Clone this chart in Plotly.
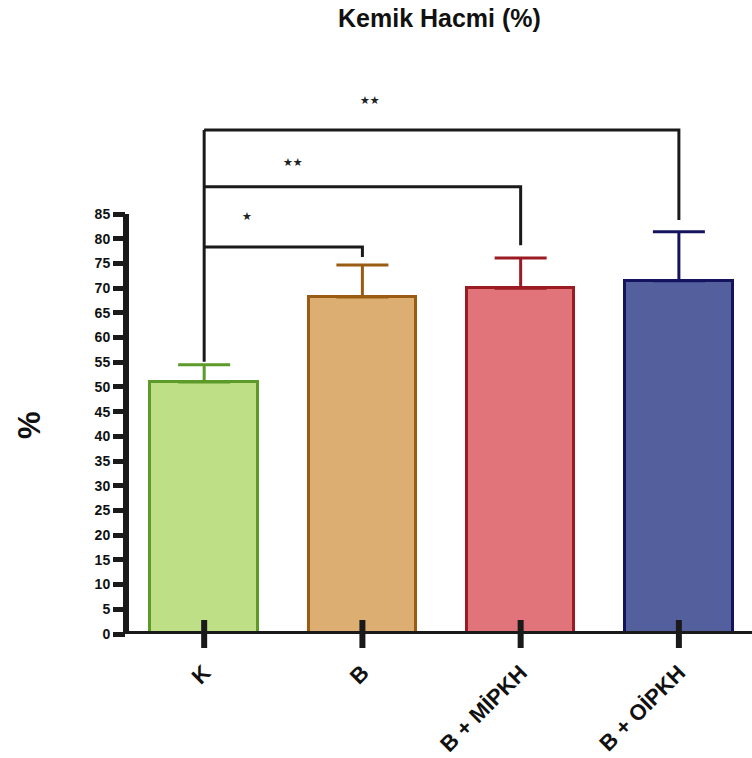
import plotly.graph_objects as go

categories = ["K", "B", "B + MİPKH", "B + OİPKH"]
means = [51.0, 68.2, 70.0, 71.5]
errors = [3.5, 6.5, 6.1, 9.9]
fill_colors = ["#bfdf87", "#ddae72", "#e0747a", "#54609e"]
line_colors = ["#5c9a2a", "#9a5c12", "#9b1b22", "#14145e"]

# significance comparisons: (from index, to index, bracket level, drop level, label)
sig_from = [0, 0, 0]
sig_to = [1, 2, 3]
sig_level = [78.3, 90.5, 102.0]
sig_drop = [76.3, 78.7, 83.8]
sig_label = ["★", "★★", "★★"]
sig_label_x = [0.27, 0.56, 1.05]
sig_label_y = [84.4, 95.4, 107.9]
k_line_start = 55.1

y_ticks = list(range(0, 90, 5))

fig = go.Figure()
for i, c in enumerate(categories):
    fig.add_trace(go.Bar(
        x=[i], y=[means[i]], width=0.68,
        marker=dict(color=fill_colors[i], line=dict(color=line_colors[i], width=3)),
        error_y=dict(type="data", array=[errors[i]], arrayminus=[0], symmetric=False,
                     color=line_colors[i], thickness=3, width=26),
        showlegend=False,
    ))

# x tick marks crossing the axis
fig.add_trace(go.Scatter(
    x=list(range(len(categories))), y=[0] * len(categories), mode="markers",
    marker=dict(symbol="line-ns", size=20, line=dict(color="#1a1a1a", width=6)),
    showlegend=False, hoverinfo="skip", cliponaxis=False,
))

shapes = []
# axis lines
shapes.append(dict(type="line", xref="paper", yref="y", x0=0, x1=0, y0=0, y1=85,
                   line=dict(color="#1a1a1a", width=6), layer="above"))
shapes.append(dict(type="line", xref="paper", yref="y", x0=0, x1=1, y0=0, y1=0,
                   line=dict(color="#1a1a1a", width=6), layer="above"))
# K vertical
shapes.append(dict(type="line", xref="x", yref="y", x0=sig_from[0], x1=sig_from[0],
                   y0=k_line_start, y1=max(sig_level), line=dict(color="#1a1a1a", width=3)))
for f, t, lv, dr in zip(sig_from, sig_to, sig_level, sig_drop):
    shapes.append(dict(type="path", xref="x", yref="y",
                       path=f"M {f} {lv} L {t} {lv} L {t} {dr}",
                       line=dict(color="#1a1a1a", width=3)))

annotations = []
for lx, ly, lb in zip(sig_label_x, sig_label_y, sig_label):
    annotations.append(dict(x=lx, y=ly, xref="x", yref="y", text=lb, showarrow=False,
                            font=dict(size=11, color="#222", family="DejaVu Sans")))
annotations.append(dict(x=0.5, y=1.132, xref="paper", yref="paper", text="Kemik Hacmi (%)",
                        showarrow=False, yanchor="middle",
                        font=dict(size=25, color="#111", family="Liberation Sans", weight="bold")))
annotations.append(dict(x=-0.155, y=0.384, xref="paper", yref="paper", text="%", showarrow=False,
                        textangle=-90, xanchor="center", yanchor="middle",
                        font=dict(size=31, color="#111", family="Liberation Sans", weight="bold")))

fig.update_layout(
    width=752, height=758,
    margin=dict(l=126, r=0, t=90, b=124),
    plot_bgcolor="white", paper_bgcolor="white",
    shapes=shapes, annotations=annotations,
    bargap=0,
    xaxis=dict(range=[-0.494, 3.462], tickvals=list(range(len(categories))), ticktext=categories,
               tickangle=-45, ticks="outside", ticklen=16, tickcolor="rgba(0,0,0,0)",
               showgrid=False, zeroline=False, showline=False,
               tickfont=dict(size=22, color="#111", family="Liberation Sans", weight="bold")),
    yaxis=dict(range=[0, 110.1], tickvals=y_ticks, ticks="outside", ticklen=12, tickwidth=5,
               tickcolor="#1a1a1a", showgrid=False, zeroline=False, showline=False,
               tickfont=dict(size=14, color="#111", family="Liberation Sans", weight="bold")),
)

fig.write_html("out.html")
